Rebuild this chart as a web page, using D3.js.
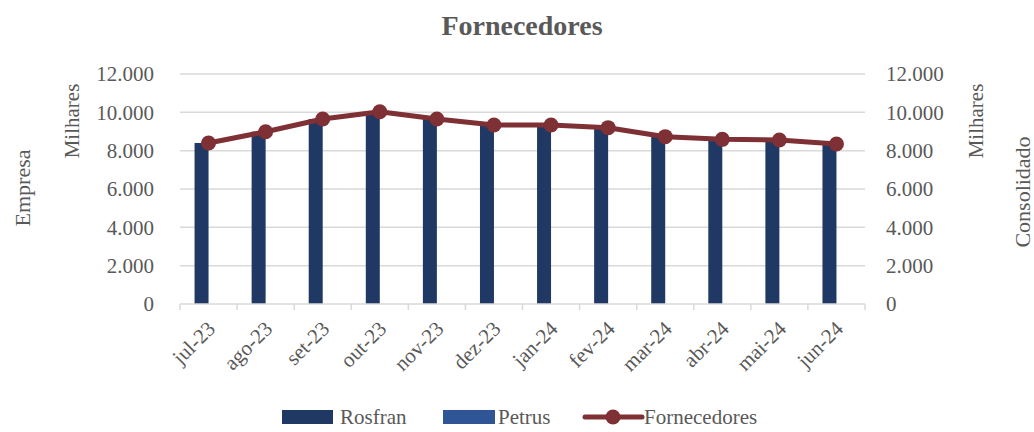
<!DOCTYPE html>
<html>
<head>
<meta charset="utf-8">
<script src="https://cdn.jsdelivr.net/npm/d3@7"></script>
<style>
  body { margin: 0; background: #fff; }
  text { font-family: "Liberation Serif", "DejaVu Serif", serif; fill: #595959; }
</style>
</head>
<body>
<svg id="chart"></svg>
<script>
// data (values in units, axis shows thousands)
const months = ['jul-23', 'ago-23', 'set-23', 'out-23', 'nov-23', 'dez-23',
  'jan-24', 'fev-24', 'mar-24', 'abr-24', 'mai-24', 'jun-24'];
const rosfran = [8400, 8990, 9650, 10030, 9650, 9340, 9340, 9200, 8730, 8590, 8555, 8350];
const petrus = [0, 0, 0, 0, 0, 0, 0, 0, 0, 0, 0, 0];
const fornecedores = [8400, 8990, 9650, 10030, 9650, 9340, 9340, 9200, 8730, 8590, 8555, 8350];
const yTicks = [0, 2000, 4000, 6000, 8000, 10000, 12000];
const seriesNames = ['Rosfran', 'Petrus'];

const width = 1034;
const height = 432;
const plot = { left: 180, right: 865, top: 74, bottom: 304 };
const colors = { Rosfran: '#1f3864', Petrus: '#2f5597', line: '#7f3035', grid: '#d9d9d9' };

const svg = d3.select('#chart')
  .attr('width', width)
  .attr('height', height);

const x = d3.scaleBand()
  .domain(months)
  .range([plot.left, plot.right])
  .padding(0);

const xSub = d3.scaleBand()
  .domain(seriesNames)
  .range([0, x.bandwidth()])
  .paddingInner(0)
  .paddingOuter(1.04);

const y = d3.scaleLinear()
  .domain([0, 12000])
  .range([plot.bottom, plot.top]);

const fmt = d => d3.format(',')(d).replace(/,/g, '.');

// gridlines
svg.append('g')
  .selectAll('line')
  .data(yTicks.filter(d => d > 0))
  .enter()
  .append('line')
  .attr('x1', plot.left)
  .attr('x2', plot.right)
  .attr('y1', d => y(d))
  .attr('y2', d => y(d))
  .attr('stroke', colors.grid)
  .attr('stroke-width', 1.5);

// bars
const barData = [];
months.forEach((m, i) => {
  barData.push({ month: m, key: 'Rosfran', value: rosfran[i] });
  barData.push({ month: m, key: 'Petrus', value: petrus[i] });
});

svg.append('g')
  .selectAll('rect')
  .data(barData)
  .enter()
  .append('rect')
  .attr('x', d => x(d.month) + xSub(d.key))
  .attr('width', xSub.bandwidth())
  .attr('y', d => y(d.value))
  .attr('height', d => y(0) - y(d.value))
  .attr('fill', d => colors[d.key]);

// x axis line + ticks at category boundaries
const xAxis = svg.append('g');
xAxis.append('line')
  .attr('x1', plot.left)
  .attr('x2', plot.right)
  .attr('y1', plot.bottom)
  .attr('y2', plot.bottom)
  .attr('stroke', colors.grid)
  .attr('stroke-width', 1.5);

const boundaries = months.map(m => x(m)).concat([plot.right]);
xAxis.selectAll('.tick')
  .data(boundaries)
  .enter()
  .append('line')
  .attr('x1', d => d)
  .attr('x2', d => d)
  .attr('y1', plot.bottom)
  .attr('y2', plot.bottom + 6)
  .attr('stroke', colors.grid)
  .attr('stroke-width', 1.5);

xAxis.selectAll('text')
  .data(months)
  .enter()
  .append('text')
  .attr('transform', d => `translate(${x(d) + x.bandwidth() / 2 + 8}, ${plot.bottom + 26}) rotate(-45)`)
  .attr('text-anchor', 'end')
  .style('font-size', '21px')
  .text(d => d);

// y axes labels (left and right share the scale)
svg.append('g')
  .selectAll('text')
  .data(yTicks)
  .enter()
  .append('text')
  .attr('x', 154)
  .attr('y', d => y(d))
  .attr('dy', '0.35em')
  .attr('text-anchor', 'end')
  .style('font-size', '21px')
  .text(fmt);

svg.append('g')
  .selectAll('text')
  .data(yTicks)
  .enter()
  .append('text')
  .attr('x', 886)
  .attr('y', d => y(d))
  .attr('dy', '0.35em')
  .attr('text-anchor', 'start')
  .style('font-size', '21px')
  .text(fmt);

// line series
const line = d3.line()
  .x((d, i) => x(months[i]) + x.bandwidth() / 2)
  .y(d => y(d));

svg.append('path')
  .datum(fornecedores)
  .attr('d', line)
  .attr('fill', 'none')
  .attr('stroke', colors.line)
  .attr('stroke-width', 5)
  .attr('stroke-linejoin', 'round');

svg.append('g')
  .selectAll('circle')
  .data(fornecedores)
  .enter()
  .append('circle')
  .attr('cx', (d, i) => x(months[i]) + x.bandwidth() / 2)
  .attr('cy', d => y(d))
  .attr('r', 7.5)
  .attr('fill', colors.line);

// titles
svg.append('text')
  .attr('x', 522)
  .attr('y', 35)
  .attr('text-anchor', 'middle')
  .style('font-size', '28px')
  .style('font-weight', 'bold')
  .text('Fornecedores');

const rotLabel = (txt, cx, cy, size) => {
  svg.append('text')
    .attr('transform', `translate(${cx}, ${cy}) rotate(-90)`)
    .attr('text-anchor', 'middle')
    .attr('dy', '0.35em')
    .style('font-size', size)
    .text(txt);
};
rotLabel('Milhares', 72, 121, '21px');
rotLabel('Empresa', 22, 188, '22px');
rotLabel('Milhares', 976, 121, '21px');
rotLabel('Consolidado', 1022, 192, '22px');

// legend
const legend = svg.append('g');
const legendY = 417;
legend.append('rect').attr('x', 282).attr('y', legendY - 7).attr('width', 51).attr('height', 14).attr('fill', colors.Rosfran);
legend.append('text').attr('x', 340).attr('y', legendY).attr('dy', '0.33em').style('font-size', '21px').text('Rosfran');
legend.append('rect').attr('x', 443).attr('y', legendY - 7).attr('width', 52).attr('height', 14).attr('fill', colors.Petrus);
legend.append('text').attr('x', 498).attr('y', legendY).attr('dy', '0.33em').style('font-size', '21px').text('Petrus');
legend.append('line').attr('x1', 585).attr('x2', 642).attr('y1', legendY).attr('y2', legendY)
  .attr('stroke', colors.line).attr('stroke-width', 5).attr('stroke-linecap', 'round');
legend.append('circle').attr('cx', 613).attr('cy', legendY).attr('r', 7.5).attr('fill', colors.line);
legend.append('text').attr('x', 644).attr('y', legendY).attr('dy', '0.33em').style('font-size', '21px').text('Fornecedores');
</script>
</body>
</html>
